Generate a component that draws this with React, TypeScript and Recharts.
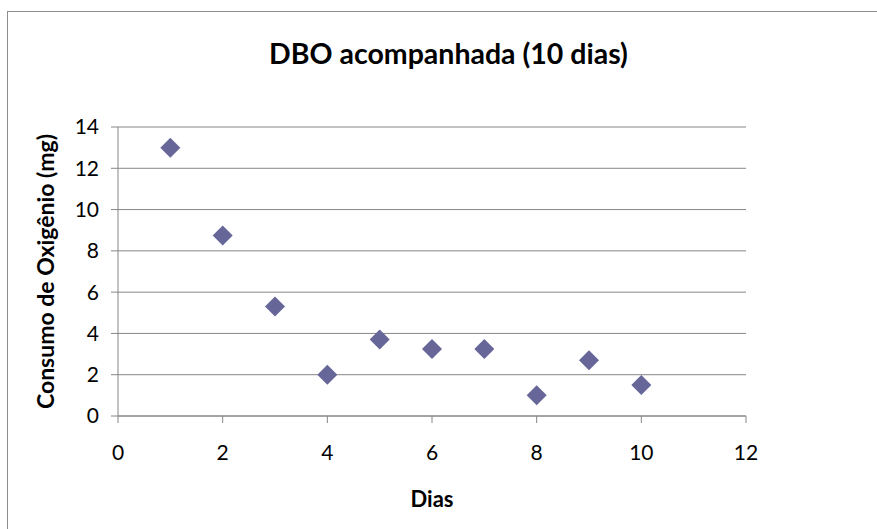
import { ScatterChart, Scatter, XAxis, YAxis, CartesianGrid } from "recharts"

const dias = [1, 2, 3, 4, 5, 6, 7, 8, 9, 10]
const consumo = [13, 8.75, 5.3, 2, 3.7, 3.25, 3.25, 1, 2.7, 1.5]
const xTicks = [0, 2, 4, 6, 8, 10, 12]
const yTicks = [0, 2, 4, 6, 8, 10, 12, 14]

const data = dias.map((d, i) => ({ x: d, y: consumo[i] }))

const font = "Lato, 'Open Sans', sans-serif"
const axisGray = "#868686"

function Diamond(props: any) {
  const { cx, cy } = props
  const r = 10
  return (
    <polygon
      points={`${cx},${cy - r} ${cx + r},${cy} ${cx},${cy + r} ${cx - r},${cy}`}
      fill="#666699"
    />
  )
}

export default function App() {
  return (
    <div style={{ position: "fixed", left: 0, top: 0, width: 877, height: 529, background: "#fff", fontFamily: font }}>
      <div
        style={{
          position: "absolute",
          left: 7,
          top: 11,
          width: 900,
          height: 600,
          borderLeft: "1px solid #8c8c8c",
          borderTop: "1px solid #8c8c8c",
        }}
      />
      <div
        style={{
          position: "absolute",
          left: 0,
          width: 897,
          top: 36,
          textAlign: "center",
          fontSize: 28.5,
          fontWeight: 700,
          color: "#000",
        }}
      >
        DBO acompanhada (10 dias)
      </div>
      <ScatterChart
        width={877}
        height={529}
        margin={{ top: 127, right: 131, bottom: 0, left: 0 }}
        style={{ position: "absolute", left: 0, top: 0 }}
      >
        <CartesianGrid horizontal vertical={false} stroke={axisGray} strokeWidth={1} />
        <XAxis
          type="number"
          dataKey="x"
          domain={[0, 12]}
          ticks={xTicks}
          height={113}
          tickSize={7}
          tickMargin={22}
          stroke={axisGray}
          tick={{ fill: "#000", fontSize: 21, fontFamily: font }}
          label={{ value: "Dias", position: "insideBottom", offset: 22, fill: "#000", fontSize: 22, fontWeight: 700, fontFamily: font }}
        />
        <YAxis
          type="number"
          dataKey="y"
          domain={[0, 14]}
          ticks={yTicks}
          width={118}
          tickSize={7}
          tickMargin={12}
          stroke={axisGray}
          tick={{ fill: "#000", fontSize: 21, fontFamily: font }}
          label={{
            value: "Consumo de Oxigênio (mg)",
            angle: -90,
            position: "insideLeft",
            offset: 46,
            style: { textAnchor: "middle" },
            fill: "#000",
            fontSize: 23,
            fontWeight: 700,
            fontFamily: font,
          }}
        />
        <Scatter data={data} shape={Diamond} isAnimationActive={false} />
      </ScatterChart>
    </div>
  )
}
